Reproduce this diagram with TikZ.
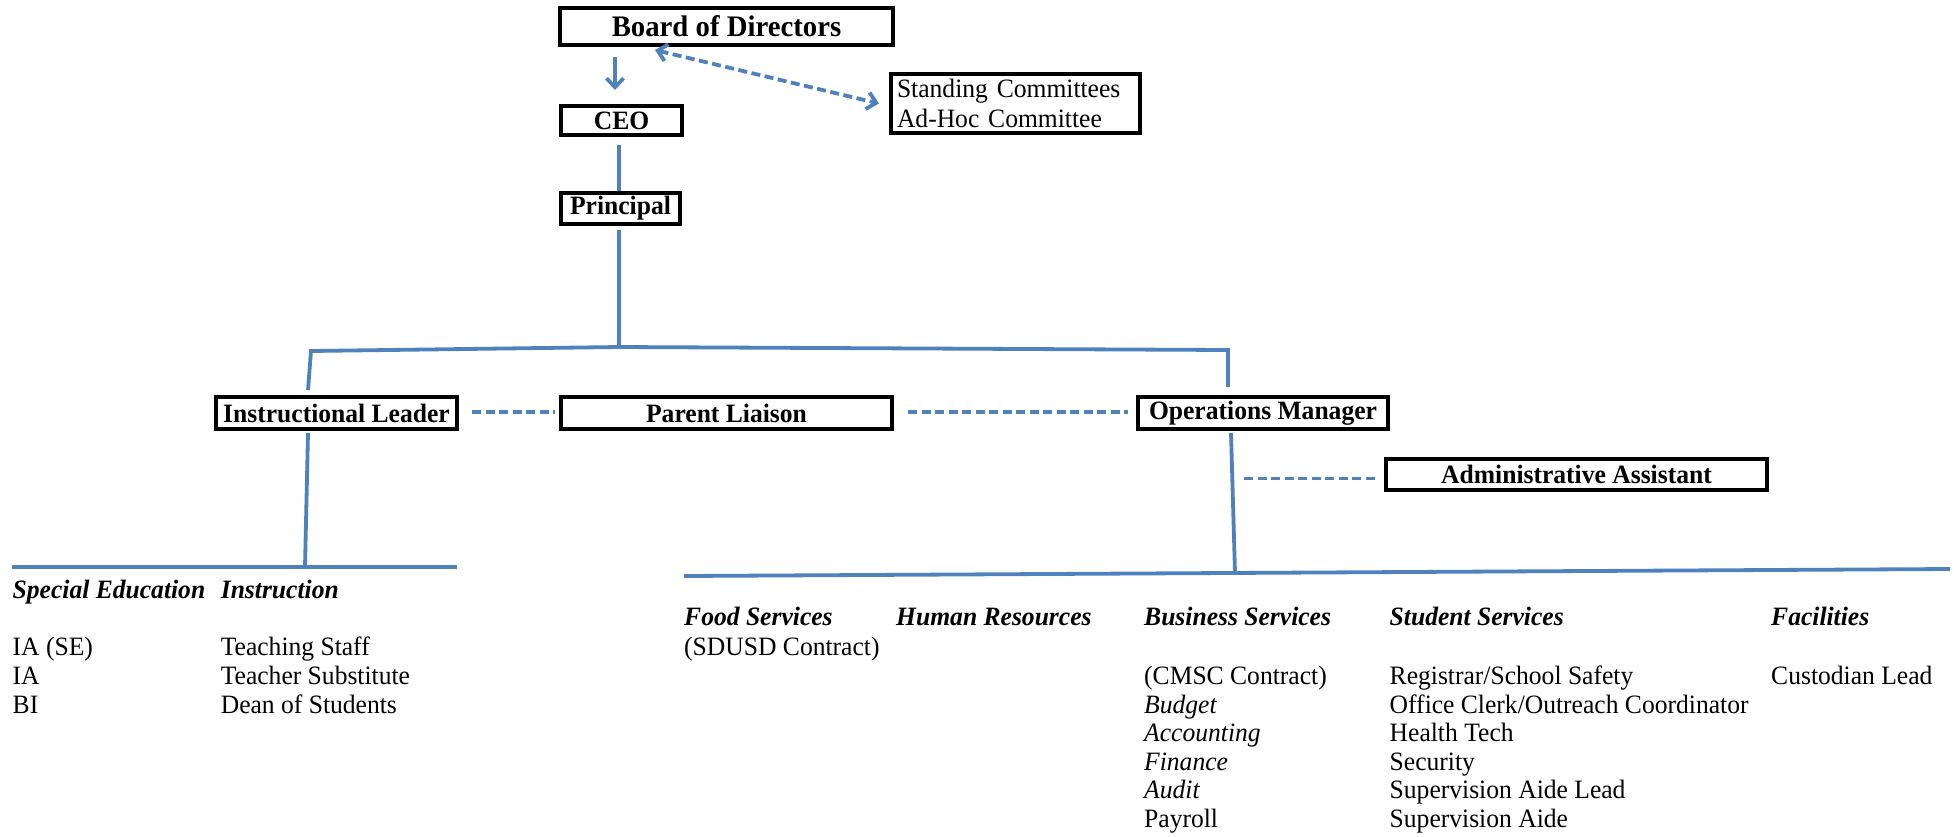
\documentclass[tikz,border=0pt]{standalone}
\usepackage{fontspec}
\setmainfont{Liberation Serif}[FakeStretch=0.965]
\usetikzlibrary{calc,arrows.meta}
\definecolor{lineblue}{HTML}{4F81BD}
\begin{document}
\begin{tikzpicture}[x=1pt,y=-1pt,
  box/.style={draw=black,line width=4pt,inner sep=0pt,font=\fontsize{26.5}{29}\selectfont\bfseries},
  conn/.style={draw=lineblue,line width=3.8pt},
  dashconn/.style={conn,dash pattern=on 9pt off 4.5pt},
  barb/.style={-{Straight Barb[length=9pt,width=17pt]}},
  dbarb/.style={{Straight Barb[length=9pt,width=17pt]}-{Straight Barb[length=9pt,width=17pt]}},
  txt/.style={anchor=base west,inner sep=0pt,font=\fontsize{26.5}{28.7}\selectfont},
  hd/.style={txt,font=\fontsize{26.5}{28.7}\selectfont\bfseries\itshape},
  itx/.style={txt,font=\fontsize{26.5}{28.7}\selectfont\itshape},
]
\useasboundingbox (0,0) rectangle (1954,836);
\fill[white] (0,0) rectangle (1954,836);

% boxes
\node[box,font=\fontsize{29.8}{32}\selectfont\bfseries,minimum width=333pt,minimum height=37pt] (board) at (726.5,26.5) {Board of Directors};
\node[box,minimum width=121pt,minimum height=29pt] (ceo) at (621.5,120.5) {CEO};
\node[box,minimum width=119pt,minimum height=31pt] (principal) at (620.5,208.5) {Principal};
\node[box,minimum width=241pt,minimum height=32pt] (il) at (336.5,413) {Instructional Leader};
\node[box,minimum width=331pt,minimum height=32pt] (pl) at (726.5,413) {Parent Liaison};
\node[box,minimum width=250pt,minimum height=32pt] (ops) at (1263,413) {Operations Manager};
\node[box,minimum width=381pt,minimum height=31pt] (admin) at (1576.5,474.5) {Administrative Assistant};
\node[box,font=\fontsize{26.5}{30}\selectfont,align=left,text width=237pt,inner xsep=2pt,minimum width=249pt,minimum height=59pt] (standing) at (1015.5,103.5) {Standing Committees\\Ad-Hoc Committee};

% solid connectors
\draw[conn,barb] ($(board.south -| ceo.north)+(-6.5,10)$) -- ($(ceo.north)+(-6.5,-14)$);
\draw[conn] ($(ceo.south)+(-2.5,8)$) -- ($(principal.north)+(-1.5,0)$);
\coordinate (j) at (619,347);
\coordinate (jl) at (311,351);
\coordinate (jr) at (1228,350);
\draw[conn] ($(principal.south)+(-1.5,4)$) -- (j);
\draw[conn] ($(il.north)+(-28.5,-5)$) -- (jl) -- (j) -- (jr) -- ($(ops.north)+(-35,-8)$);

\coordinate (lb) at (305,567);
\coordinate (lbl) at (12,567);
\coordinate (lbr) at (457,567);
\draw[conn] ($(il.south)+(-28.5,2)$) -- (lb);
\draw[conn] (lbl) -- (lbr);

\coordinate (rb) at (1235,573);
\coordinate (rbl) at (684,576);
\coordinate (rbr) at (1950,569);
\draw[conn] ($(ops.south)+(-32,2)$) -- (rb);
\draw[conn] (rbl) -- (rbr);

% dashed connectors
\draw[dashconn] ($(il.east)+(13,-1)$) -- ($(pl.west)+(-4,-1)$);
\draw[dashconn] ($(pl.east)+(14,-1)$) -- ($(ops.west)+(-8,-1)$);
\draw[dashconn] ($(ops.south |- admin.west)+(-19,4)$) -- ($(admin.west)+(-6,4)$);
\draw[dashconn,dbarb] ($(board.south west)+(97,3)$) -- ($(standing.west)+(-10,0)$);

% left columns
\node[hd] (sped) at (12.5,598) {Special Education};
\node[hd] (instr) at (220.6,598) {Instruction};
\node[txt] (se1) at (12.5,655.5) {IA (SE)};
\node[txt] (se2) at (12.5,684) {IA};
\node[txt] (se3) at (12.5,713) {BI};
\node[txt] (in1) at (220.6,655.5) {Teaching Staff};
\node[txt] (in2) at (220.6,684) {Teacher Substitute};
\node[txt] (in3) at (220.6,713) {Dean of Students};

% right columns
\node[hd] (food) at (684,625.5) {Food Services};
\node[txt] (food1) at (684,655.5) {(SDUSD Contract)};
\node[hd] (hr) at (896,625.5) {Human Resources};
\node[hd] (bus) at (1144,625.5) {Business Services};
\node[txt] (bus1) at (1144,684) {(CMSC Contract)};
\node[itx] (bus2) at (1144,713) {Budget};
\node[itx] (bus3) at (1144,741.5) {Accounting};
\node[itx] (bus4) at (1144,770) {Finance};
\node[itx] (bus5) at (1144,798.6) {Audit};
\node[txt] (bus6) at (1144,827) {Payroll};
\node[hd] (stu) at (1389.5,625.5) {Student Services};
\node[txt] (stu1) at (1389.5,684) {Registrar/School Safety};
\node[txt] (stu2) at (1389.5,713) {Office Clerk/Outreach Coordinator};
\node[txt] (stu3) at (1389.5,741.5) {Health Tech};
\node[txt] (stu4) at (1389.5,770) {Security};
\node[txt] (stu5) at (1389.5,798.6) {Supervision Aide Lead};
\node[txt] (stu6) at (1389.5,827) {Supervision Aide};
\node[hd] (fac) at (1771,625.5) {Facilities};
\node[txt] (fac1) at (1771,684) {Custodian Lead};
\end{tikzpicture}
\end{document}
